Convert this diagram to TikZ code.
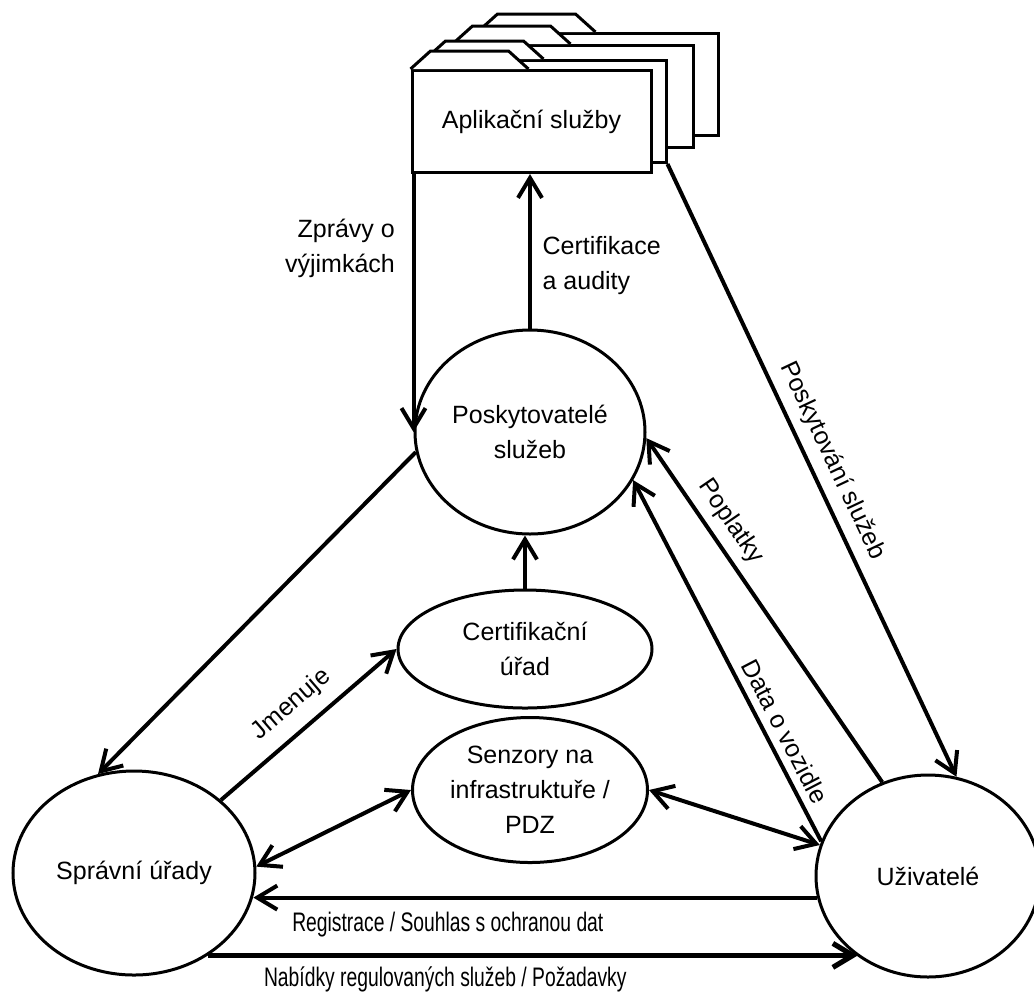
\documentclass[tikz,border=0pt]{standalone}
\usepackage{fontspec}
\setmainfont{Liberation Sans}
\newfontfamily\narrowsans{Liberation Sans}[FakeStretch=0.72]
\usetikzlibrary{shapes.geometric, arrows.meta}
\newcommand{\diagfont}{\fontsize{12.5}{17.5}\selectfont}
\newcommand{\bottomfont}{\narrowsans\fontsize{13.4}{17.5}\selectfont}
\tikzset{party/.style={ellipse, draw, line width=1.5pt, inner sep=0pt, align=center}}
\tikzset{appbox/.style={rectangle, draw, line width=1.5pt, fill=white,
    minimum width=119.5pt, minimum height=51pt}}
\tikzset{flow/.style={line width=2pt, -{Straight Barb[length=10pt, width=12pt]}}}
\tikzset{flowboth/.style={line width=2pt,
    {Straight Barb[length=10pt, width=12pt]}-{Straight Barb[length=10pt, width=12pt]}}}
\newcommand{\foldertab}[1]{\draw[line width=1.5pt, fill=white]
  (#1.north west) -- ++(20,-18) -- ++(78,0) -- ++(20,18);}

\begin{document}
\begin{tikzpicture}[x=0.5pt, y=-0.5pt, font=\diagfont]
    \useasboundingbox (0,0) rectangle (1034,993);

    % stacked application boxes, back to front
    \foreach \dx/\dy/\n in {67/37/4, 42/25/3, 15/10/2} {
        \node[appbox] (apps\n) at (531.5+\dx, 121.5-\dy) {};
        \foldertab{apps\n}
    }
    \node[appbox] (apps) at (531.5, 121.5) {Aplikační služby};
    \foldertab{apps}

    \node[party, minimum width=115pt, minimum height=102pt] (prov) at (530,432) {Poskytovatelé\\služeb};
    \node[party, minimum width=121pt, minimum height=102pt] (admin) at (134,873) {Správní úřady};
    \node[party, minimum width=112pt, minimum height=101pt] (users) at (928,876) {Uživatelé};
    \node[party, minimum width=127pt, minimum height=59pt] (certauth) at (525,649) {Certifikační\\úřad};
    \node[party, minimum width=117.5pt, minimum height=72.5pt] (sensors) at (530,790) {Senzory na\\infrastruktuře /\\PDZ};

    \draw[flow] (apps.south -| prov.west) -- node[left=5pt, align=right, pos=0.29] {Zprávy o\\výjimkách} (prov.west);
    \draw[flow] (prov.north) -- node[right=2pt, align=left, pos=0.41] {Certifikace\\a audity} (prov.north |- apps.south);
    \draw[flow] (apps2.south east) -- node[sloped, above=1pt] {Poskytování služeb} (users.74);
    \draw[flow] (users.116) -- node[sloped, above=1pt, pos=0.72] {Poplatky} (prov.-3);
    \draw[flow] (users.162) -- node[sloped, above=0.5pt, pos=0.28] {Data o vozidle} (prov.-25);
    \draw[flow] (prov.190) -- (admin.110);
    \draw[flow] (certauth.north) -- (certauth.north |- prov.south);
    \draw[flow] (admin.40) -- node[sloped, above=3pt] {Jmenuje} (certauth.west);
    \draw[flowboth] (admin.3) -- (sensors.west);
    \draw[flowboth] (sensors.east) -- (users.164);

    \draw[flow] (users.191) -- node[below=3pt, pos=0.655, font=\bottomfont] {Registrace / Souhlas s ochranou dat} (users.191 -| admin.-11);
    \draw[flow, line width=2.6pt] (admin.-48) -- node[below=1pt, pos=0.365, font=\bottomfont] {Nabídky regulovaných služeb / Požadavky} (admin.-48 -| users.-131);
\end{tikzpicture}
\end{document}
